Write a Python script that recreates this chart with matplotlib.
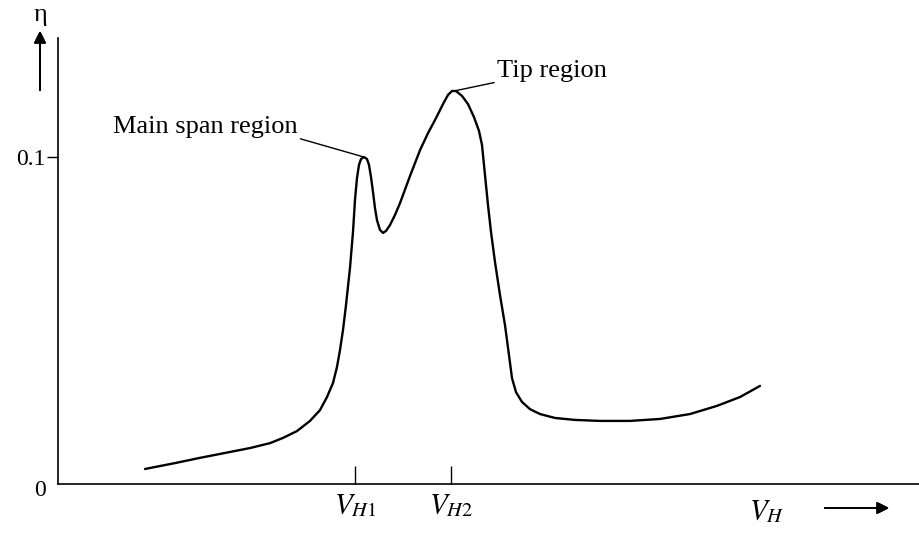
import matplotlib.pyplot as plt
import numpy as np

plt.rcParams['font.family'] = ['Liberation Serif', 'DejaVu Serif']
plt.rcParams['mathtext.fontset'] = 'stix'

# efficiency curve eta(V_H), read point by point
vh = [0.87, 1.17, 1.42, 1.67, 1.92, 2.12, 2.25, 2.39, 2.52, 2.62, 2.69, 2.75,
      2.79, 2.82, 2.85, 2.88, 2.92, 2.95, 2.97, 2.99, 3.01, 3.03, 3.06, 3.09,
      3.11, 3.13, 3.15, 3.17, 3.19, 3.22, 3.25, 3.28, 3.32, 3.37, 3.42, 3.52,
      3.62, 3.70, 3.78, 3.85, 3.90, 3.94, 3.98, 4.04, 4.10, 4.16, 4.21, 4.24,
      4.27, 4.30, 4.33, 4.37, 4.42, 4.47, 4.51, 4.54, 4.58, 4.64, 4.72, 4.82,
      4.97, 5.17, 5.42, 5.72, 6.02, 6.32, 6.59, 6.82, 7.02]
eta = [0.0046, 0.0064, 0.0080, 0.0095, 0.0110, 0.0125, 0.0141, 0.0162, 0.0193,
       0.0226, 0.0266, 0.0309, 0.0358, 0.0410, 0.0471, 0.0547, 0.0661, 0.0771,
       0.0869, 0.0936, 0.0976, 0.0994, 0.1000, 0.0994, 0.0976, 0.0939, 0.0893,
       0.0844, 0.0807, 0.0777, 0.0768, 0.0774, 0.0792, 0.0823, 0.0859, 0.0942,
       0.1021, 0.1073, 0.1119, 0.1162, 0.1190, 0.1202, 0.1202, 0.1187, 0.1162,
       0.1122, 0.1080, 0.1037, 0.0945, 0.0853, 0.0771, 0.0679, 0.0578, 0.0486,
       0.0394, 0.0324, 0.0281, 0.0251, 0.0229, 0.0214, 0.0202, 0.0196, 0.0193,
       0.0193, 0.0199, 0.0214, 0.0239, 0.0266, 0.0300]

vh_ticks = [2.97, 3.93]
vh_labels = [r'$V_{H1}$', r'$V_{H2}$']
main_peak = (3.06, 0.1000)
tip_peak = (3.96, 0.1202)

fig = plt.figure(figsize=(9.19, 5.35), dpi=100)
ax = fig.add_axes([0.0631, 0.0953, 0.9369, 0.8336])
ax.set_xlim(0, 8.61)
ax.set_ylim(0, 0.1364)

ax.plot(vh, eta, color='black', lw=1.7, solid_capstyle='round',
        solid_joinstyle='round')

ax.spines['right'].set_visible(False)
ax.spines['top'].set_visible(False)
ax.spines['left'].set_linewidth(1.2)
ax.spines['bottom'].set_linewidth(1.2)

ax.set_xticks(vh_ticks)
ax.set_xticklabels(vh_labels, fontsize=21)
ax.tick_params(axis='x', direction='in', length=13, width=1.0, pad=6)
ax.set_yticks([0.1])
ax.set_yticklabels(['0.1'], fontsize=17)
ax.tick_params(axis='y', direction='out', length=8, width=1.0, pad=1)

# origin label
ax.annotate('0', xy=(0, 0), xytext=(-13, -5), textcoords='offset points',
            ha='center', va='center', fontsize=17)

# region labels with leader lines
ax.annotate('Main span region', xy=main_peak, xytext=(113, 402),
            textcoords='figure pixels', fontsize=19, ha='left', va='baseline',
            arrowprops=dict(arrowstyle='-', lw=1.0, color='black',
                            shrinkA=0, shrinkB=1, relpos=(1.0, 0.0)))
ax.annotate('Tip region', xy=tip_peak, xytext=(497, 458),
            textcoords='figure pixels', fontsize=19, ha='left', va='baseline',
            arrowprops=dict(arrowstyle='-', lw=1.0, color='black',
                            shrinkA=0, shrinkB=1, relpos=(0.0, 0.0)))

# axis names with arrows
fig.text(40 / 919, 1 - 15 / 535, 'η', fontsize=19, ha='center', va='center')
fig.add_artist(plt.annotate('', xy=(40 / 919, 1 - 28 / 535), xycoords='figure fraction',
                            xytext=(40 / 919, 1 - 93 / 535), textcoords='figure fraction',
                            arrowprops=dict(arrowstyle='-|>', lw=1.3, color='black',
                                            mutation_scale=18)))
fig.text(767 / 919, 1 - 512 / 535, r'$V_H$', fontsize=21, ha='center', va='center')
fig.add_artist(plt.annotate('', xy=(892 / 919, 1 - 508 / 535), xycoords='figure fraction',
                            xytext=(822 / 919, 1 - 508 / 535), textcoords='figure fraction',
                            arrowprops=dict(arrowstyle='-|>', lw=1.3, color='black',
                                            mutation_scale=18)))

fig.savefig('out.png', dpi=100, facecolor='white')
